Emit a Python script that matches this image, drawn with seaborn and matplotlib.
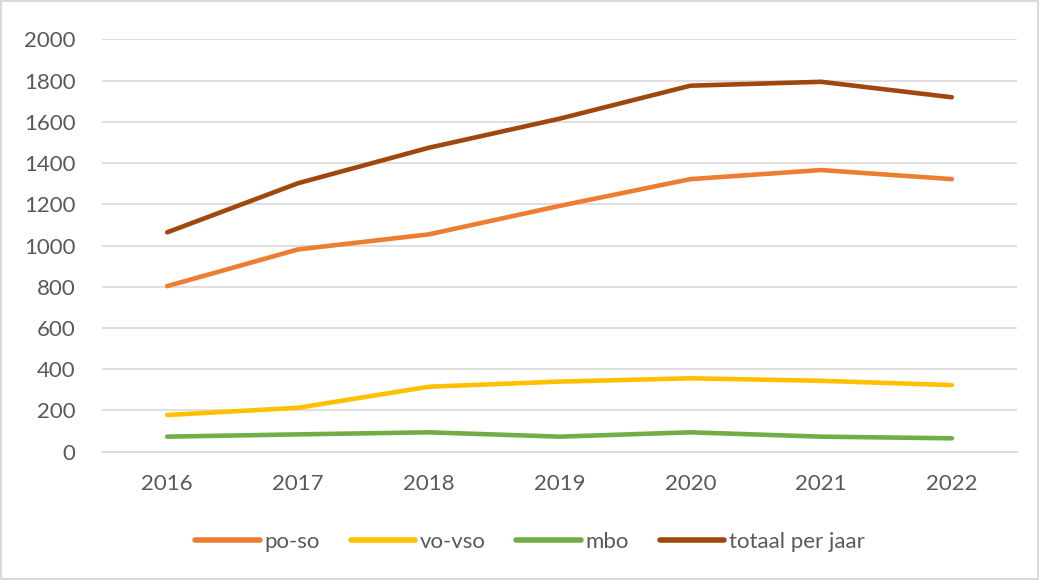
import pandas as pd
import matplotlib.pyplot as plt
import seaborn as sns

# Values
years = ['2016', '2017', '2018', '2019', '2020', '2021', '2022']
po_so = [803, 981, 1054, 1192, 1322, 1366, 1322]
vo_vso = [178, 213, 315, 340, 356, 344, 323]
mbo = [73, 84, 94, 73, 94, 73, 65]
totaal = [1064, 1302, 1474, 1615, 1775, 1794, 1719]

series_names = ['po-so', 'vo-vso', 'mbo', 'totaal per jaar']
series_colors = ['#ED7D31', '#FFC000', '#70AD47', '#9E480E']

# long format for seaborn
df = pd.DataFrame({
    'jaar': years * 4,
    'aantal': po_so + vo_vso + mbo + totaal,
    'reeks': [n for n in series_names for _ in years],
})

sns.set_theme(style="whitegrid")
plt.rcParams['font.family'] = ['Lato', 'DejaVu Sans']

fig = plt.figure(figsize=(10.39, 5.80), dpi=100)
fig.patch.set_edgecolor('#D9D9D9')
fig.patch.set_linewidth(1.5)
ax = fig.add_axes([0.098, 0.2212, 0.881, 0.7110])

sns.lineplot(data=df, x='jaar', y='aantal', hue='reeks', hue_order=series_names,
             palette=series_colors, linewidth=3.3, solid_capstyle='round', ax=ax)

ax.set_xlim(-0.5, 6.5)
ax.set_ylim(0, 2000)
ax.set_yticks(range(0, 2001, 200))
ax.set_xlabel('')
ax.set_ylabel('')
ax.grid(axis='y', color='#D9D9D9', linewidth=1.2)
ax.grid(axis='x', visible=False)
for side in ['top', 'right', 'left']:
    ax.spines[side].set_visible(False)
ax.spines['bottom'].set_color('#D9D9D9')
ax.spines['bottom'].set_linewidth(1.2)
ax.tick_params(axis='y', length=0, pad=19, labelsize=16, labelcolor='#595959')
ax.tick_params(axis='x', length=0, pad=16, labelsize=16, labelcolor='#595959')

ax.get_legend().remove()
handles, labels = ax.get_legend_handles_labels()
leg = fig.legend(handles, labels, loc='center', bbox_to_anchor=(0.51, 0.0655), ncol=4,
                 frameon=False, fontsize=16, handlelength=2.9, handletextpad=0.2,
                 columnspacing=1.4, labelcolor='#595959')
for line in leg.get_lines():
    line.set_linewidth(4.0)
    line.set_solid_capstyle('round')

plt.savefig('out.png', dpi=100)
plt.close()
